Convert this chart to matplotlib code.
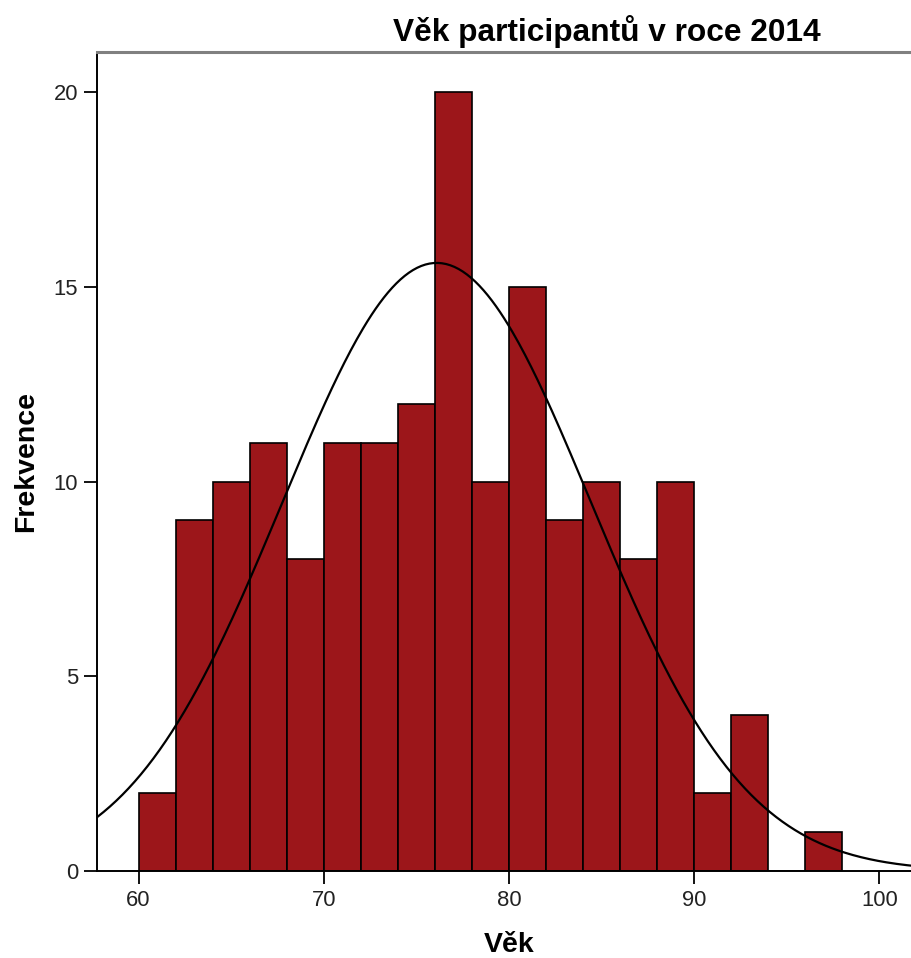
import numpy as np
import matplotlib
matplotlib.use("Agg")
import matplotlib.pyplot as plt

# age histogram, 2-year bins from 60 to 98
bin_edges = np.arange(60, 100, 2)
counts = [2, 9, 10, 11, 8, 11, 11, 12, 20, 10, 15, 9, 10, 8, 10, 2, 4, 0, 1]
age_mean = 76.1
age_sd = 8.33

x_ticks = [60, 70, 80, 90, 100]
y_ticks = [0, 5, 10, 15, 20]

BAR = "#9c161a"
plt.rcParams["font.family"] = ["Liberation Sans", "DejaVu Sans"]

fig = plt.figure(figsize=(9.11, 9.58), dpi=100)
ax = fig.add_axes([0.107, 0.0908, 0.909, 0.8554])

n = sum(counts)
width = bin_edges[1] - bin_edges[0]
ax.bar(bin_edges[:-1], counts, width=width, align="edge", color=BAR,
       edgecolor="black", linewidth=1.2, zorder=2)

# normal curve scaled to counts per bin
xs = np.linspace(57.78, 102.5, 400)
ys = n * width / (age_sd * np.sqrt(2 * np.pi)) * np.exp(-(xs - age_mean) ** 2 / (2 * age_sd ** 2))
ax.plot(xs, ys, color="black", lw=1.6, zorder=3)

ax.set_xlim(57.78, 102.5)
ax.set_ylim(0, 21.04)
ax.set_xticks(x_ticks)
ax.set_yticks(y_ticks)
ax.tick_params(direction="out", length=9.5, width=1.3, pad=4.5, labelsize=15.8,
               labelcolor="#222222")

ax.spines["right"].set_visible(False)
ax.spines["top"].set_color("#808080")
ax.spines["top"].set_linewidth(2.2)
ax.spines["left"].set_linewidth(1.4)
ax.spines["bottom"].set_linewidth(1.4)

fig.text(26 / 911, 0.518, "Frekvence", rotation=90, ha="center", va="center",
         fontsize=20.5, fontweight="bold")
fig.text(509 / 911, 1 - 945 / 958, "Věk", ha="center", va="center",
         fontsize=20.5, fontweight="bold")
fig.text(607 / 911, 1 - 32 / 958, "Věk participantů v roce 2014", ha="center",
         va="center", fontsize=22.8, fontweight="bold")

fig.savefig("out.png", dpi=100, facecolor="white")
